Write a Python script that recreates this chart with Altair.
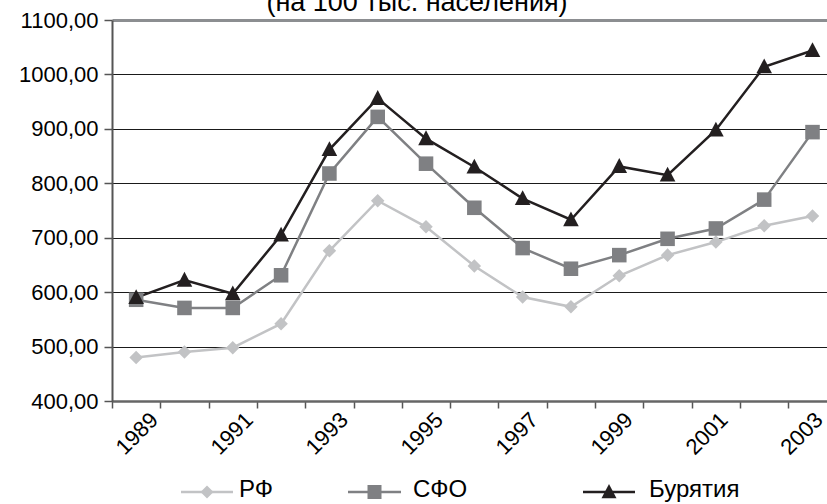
import altair as alt
import pandas as pd

years = list(range(1989, 2004))
rf = [480, 490, 498, 542, 676, 768, 720, 648, 591, 573, 630, 668, 692, 722, 740]
sfo = [586, 571, 571, 631, 818, 922, 836, 755, 681, 643, 668, 698, 717, 770, 894]
bur = [590, 622, 597, 705, 862, 956, 882, 830, 772, 733, 831, 815, 898, 1014, 1044]
series = ["РФ", "СФО", "Бурятия"]
colors = ["#c2c3c5", "#7f8083", "#231f20"]
shapes = [
    "M0,-0.26L0.26,0L0,0.26L-0.26,0Z",
    "M-0.28,-0.28H0.28V0.28H-0.28Z",
    "M0,-0.32L0.3,0.25H-0.3Z",
]
y_ticks = [400, 500, 600, 700, 800, 900, 1000, 1100]
title_text = "(на 100 тыс. населения)"

rows = []
for name, vals in zip(series, [rf, sfo, bur]):
    for yr, v in zip(years, vals):
        rows.append({"year": yr, "value": v, "series": name})
df = pd.DataFrame(rows)

FONT = "Liberation Sans"

# tick marks sit between categories; year labels are placed slightly compressed, as in the original
tick_vals = [y - 0.5 for y in years]
label_vals = [round(1989.43 + 0.983 * (y - 1989), 3) for y in years if y % 2 == 1]
x_vals = sorted(tick_vals + label_vals)

x_enc = alt.X(
    "year:Q",
    scale=alt.Scale(domain=[1988.5, 2003.3], nice=False, zero=False),
    axis=alt.Axis(
        values=x_vals,
        labelExpr="(datum.value % 1 == 0.5) ? '' : '' + round(datum.value)",
        labelAngle=315,
        labelAlign="right",
        labelBaseline="middle",
        labelOffset=-3,
        labelPadding=8,
        tickSize=7,
        tickColor={"condition": {"test": "datum.value % 1 != 0.5", "value": "transparent"}, "value": "#555555"},
        tickWidth=1.5,
        domainColor="#666666",
        domainWidth=2.5,
        grid=False,
        labelFlush=False,
        labelOverlap=False,
        labelBound=False,
        title=None,
        labelFontSize=22,
        labelColor="#000000",
        labelFont=FONT,
    ),
)

y_enc = alt.Y(
    "value:Q",
    scale=alt.Scale(domain=[400, 1100], nice=False, zero=False),
    axis=alt.Axis(
        values=y_ticks,
        labelExpr="replace(format(datum.value, '.2f'), '.', ',')",
        tickSize=8,
        labelPadding=6,
        labelFontSize=22,
        labelColor="#000000",
        labelFont=FONT,
        domainColor="#555555",
        domainWidth=2,
        tickColor="#555555",
        tickWidth=1.5,
        grid=True,
        gridColor={"condition": {"test": "datum.value === 1100", "value": "#8c8e91"}, "value": "#1a1a1a"},
        gridWidth={"condition": {"test": "datum.value === 1100", "value": 3}, "value": 1.2},
        title=None,
    ),
)

color_scale = alt.Scale(domain=series, range=colors)
shape_scale = alt.Scale(domain=series, range=shapes)

base = alt.Chart(df)

lines = base.mark_line(strokeWidth=2.5).encode(
    x=x_enc,
    y=y_enc,
    color=alt.Color("series:N", scale=color_scale, legend=None),
    order="year:Q",
)

points = base.mark_point(filled=True, size=2704, opacity=1, strokeWidth=0).encode(
    x=x_enc,
    y=y_enc,
    color=alt.Color("series:N", scale=color_scale, legend=None),
    shape=alt.Shape("series:N", scale=shape_scale, legend=None),
)

# title (its upper part is cut off by the page edge, as in the original)
title_layer = alt.Chart(pd.DataFrame({"t": [title_text]})).mark_text(
    font=FONT, fontSize=27, align="center", baseline="alphabetic", color="#000000"
).encode(text="t:N", x=alt.value(305), y=alt.value(-9))

# legend laid out below the axis
legend_slots = [(69, 121, 127), (236, 289, 301), (471, 523, 537)]
legend_layers = []
for name, (x0, x1, xt) in zip(series, legend_slots):
    ldf = pd.DataFrame({"series": [name]})
    lb = alt.Chart(ldf)
    legend_layers.append(
        lb.mark_rule(strokeWidth=2.5).encode(
            x=alt.value(x0), x2=alt.value(x1), y=alt.value(472),
            color=alt.Color("series:N", scale=color_scale, legend=None),
        )
    )
    legend_layers.append(
        lb.mark_point(filled=True, size=2500, opacity=1, strokeWidth=0).encode(
            x=alt.value((x0 + x1) / 2), y=alt.value(472),
            color=alt.Color("series:N", scale=color_scale, legend=None),
            shape=alt.Shape("series:N", scale=shape_scale, legend=None),
        )
    )
    legend_layers.append(
        lb.mark_text(font=FONT, fontSize=24, align="left", baseline="middle", color="#000000").encode(
            x=alt.value(xt), y=alt.value(470), text="series:N",
        )
    )

chart = (
    alt.layer(lines, points, title_layer, *legend_layers)
    .properties(
        width=715,
        height=381,
        autosize=alt.AutoSizeParams(type="none"),
        padding={"left": 112, "top": 20, "right": 0, "bottom": 103},
    )
    .configure(font=FONT, background="#ffffff")
    .configure_view(strokeWidth=0)
)

chart.save("out.html", embed_options={"renderer": "svg", "actions": False})
